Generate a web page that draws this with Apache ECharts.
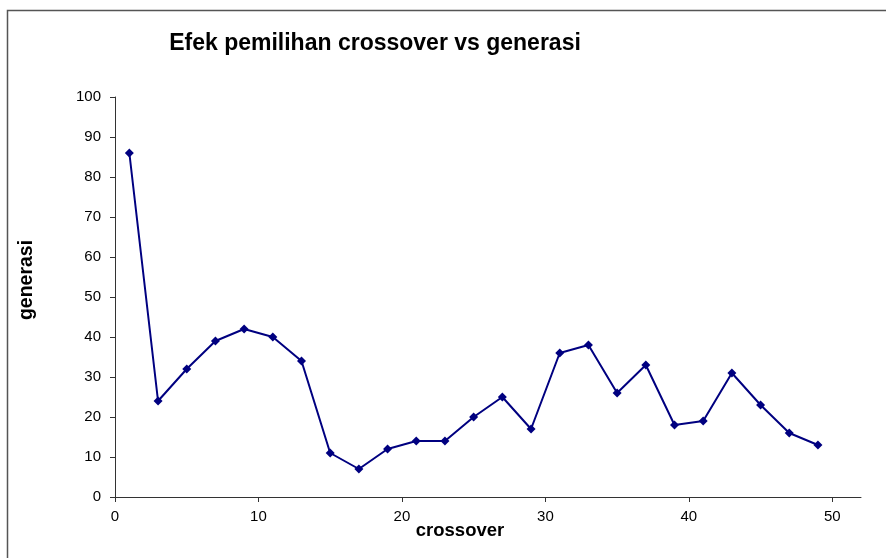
<!DOCTYPE html>
<html>
<head>
<meta charset="utf-8">
<script src="https://cdn.jsdelivr.net/npm/echarts@6/dist/echarts.min.js"></script>
<style>
  html, body { margin: 0; padding: 0; background: #fff; }
  #chart { width: 886px; height: 558px; }
</style>
</head>
<body>
<div id="chart"></div>
<script>
// Crossover settings tested and the number of generations each needed
const crossover = [1, 3, 5, 7, 9, 11, 13, 15, 17, 19, 21, 23, 25, 27, 29, 31, 33, 35, 37, 39, 41, 43, 45, 47, 49];
const generasi  = [86, 24, 32, 39, 42, 40, 34, 11, 7, 12, 14, 14, 20, 25, 17, 36, 38, 26, 33, 18, 19, 31, 23, 16, 13];
const xTicks = [0, 10, 20, 30, 40, 50];
const yTicks = [0, 10, 20, 30, 40, 50, 60, 70, 80, 90, 100];

const font = 'Liberation Sans, Arial, sans-serif';
const axisColor = '#333';

const chart = echarts.init(document.getElementById('chart'), null, { renderer: 'canvas' });
chart.setOption({
  animation: false,
  backgroundColor: '#fff',
  title: {
    text: 'Efek pemilihan crossover vs generasi',
    left: 370, top: 27, textAlign: 'center',
    textStyle: { fontFamily: font, fontSize: 23, fontWeight: 'bold', color: '#000' }
  },
  graphic: [{
    type: 'rect',
    shape: { x: 7.5, y: 10.5, width: 900, height: 600 },
    style: { fill: null, stroke: '#555', lineWidth: 1.5 },
    silent: true, z: -1
  }],
  grid: { left: 115, right: 25, top: 97, bottom: 61, containLabel: false },
  xAxis: {
    type: 'value', min: 0, max: 52,
    name: 'crossover', nameLocation: 'middle', nameGap: 24, nameMoveOverlap: false,
    nameTextStyle: { fontFamily: font, fontSize: 18.5, fontWeight: 'bold', color: '#000', padding: [0, 56, 0, 0] },
    axisLine: { show: true, onZero: false, lineStyle: { color: axisColor, width: 1 } },
    axisTick: { show: true, length: 5, inside: false, customValues: xTicks, lineStyle: { color: axisColor } },
    axisLabel: { customValues: xTicks, margin: 12, fontFamily: font, fontSize: 15, color: '#000' },
    splitLine: { show: false }
  },
  yAxis: {
    type: 'value', min: 0, max: 100,
    name: 'generasi', nameLocation: 'middle', nameGap: 78, nameRotate: 90, nameMoveOverlap: false,
    nameTextStyle: { fontFamily: font, fontSize: 19.5, fontWeight: 'bold', color: '#000', padding: [0, 0, 0, 34] },
    axisLine: { show: true, lineStyle: { color: axisColor, width: 1 } },
    axisTick: { show: true, length: 5, inside: false, customValues: yTicks, lineStyle: { color: axisColor } },
    axisLabel: { customValues: yTicks, margin: 14, fontFamily: font, fontSize: 15, color: '#000' },
    splitLine: { show: false }
  },
  series: [{
    type: 'line',
    data: crossover.map((x, i) => [x, generasi[i]]),
    symbol: 'diamond', symbolSize: 9,
    lineStyle: { color: '#000080', width: 2 },
    itemStyle: { color: '#000080' }
  }]
});
</script>
</body>
</html>
